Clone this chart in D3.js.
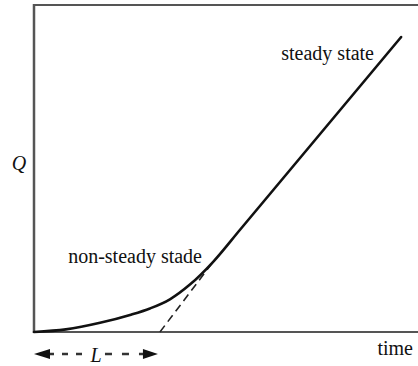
<!DOCTYPE html>
<html><head><meta charset="utf-8">
<script src="https://cdn.jsdelivr.net/npm/d3@7"></script>
<style>html,body{margin:0;padding:0;background:#fff;}svg{display:block;}</style>
</head><body>
<script>
// Data (arbitrary units)
const timeVals = [0, 0.83, 1.72, 2.5, 3.02, 3.54, 4.06, 4.66, 5.36, 9.56];
const qVals    = [0, 0.08, 0.28, 0.52, 0.72, 1.0, 1.45, 2.14, 3.12, 9.02];
const lagTime = 3.28;          // x-intercept of the steady-state line
const tangentPoint = [4.66, 2.14];
const labels = {steady: "steady state", nonSteady: "non-steady stade", y: "Q", x: "time", lag: "L"};

const W = 418, H = 366;
const svg = d3.select("body").append("svg").attr("width", W).attr("height", H);
const x = d3.scaleLinear().domain([0, 10]).range([34, 418]);
const y = d3.scaleLinear().domain([0, 10]).range([332, 5]);
const frameColor = "#555";
const FAM = "Liberation Serif";

// frame: left, top, bottom
svg.append("line").attr("x1", x(0)).attr("x2", x(0)).attr("y1", y(10)-1).attr("y2", y(0)+1)
  .attr("stroke", frameColor).attr("stroke-width", 2.5);
svg.append("line").attr("x1", x(0)-1).attr("x2", x(10)).attr("y1", y(10)).attr("y2", y(10))
  .attr("stroke", frameColor).attr("stroke-width", 2.2);
svg.append("line").attr("x1", x(0)-1).attr("x2", x(10)).attr("y1", y(0)).attr("y2", y(0))
  .attr("stroke", frameColor).attr("stroke-width", 2.2);

// dashed tangent
svg.append("line").attr("x1", x(lagTime)).attr("y1", y(0))
  .attr("x2", x(tangentPoint[0])).attr("y2", y(tangentPoint[1]))
  .attr("stroke", "#222").attr("stroke-width", 1.6).attr("stroke-dasharray", "8,5");

// curve
const pts = timeVals.map((t, i) => [t, qVals[i]]);
const line = d3.line().x(d => x(d[0])).y(d => y(d[1])).curve(d3.curveMonotoneX);
svg.append("path").attr("d", line(pts)).attr("fill", "none")
  .attr("stroke", "#111").attr("stroke-width", 2.6).attr("stroke-linecap", "round");

// labels
function label(t, px, py, anchor, italic) {
  svg.append("text").attr("x", px).attr("y", py).attr("text-anchor", anchor)
    .style("font-family", FAM)
    .style("font-size", "20px").style("font-style", italic ? "italic" : "normal")
    .attr("fill", "#111").text(t);
}
label(labels.steady, 374, 60, "end", false);
label(labels.nonSteady, 202, 263, "end", false);
label(labels.y, 19, 170, "middle", true);
label(labels.x, 413, 355, "end", false);

// lag arrow
const ay = 354;
const lx0 = x(0), lx1 = x(lagTime);
const mid = (lx0 + lx1) / 2;
label(labels.lag, mid - 1, 362, "middle", true);
svg.append("line").attr("x1", lx0 + 14).attr("x2", mid - 12).attr("y1", ay).attr("y2", ay)
  .attr("stroke", "#333").attr("stroke-width", 2.5).attr("stroke-dasharray", "6,8");
svg.append("line").attr("x1", mid + 8).attr("x2", lx1 - 14).attr("y1", ay).attr("y2", ay)
  .attr("stroke", "#333").attr("stroke-width", 2.5).attr("stroke-dasharray", "7,10");
svg.append("path").attr("d", `M${lx0},${ay} L${lx0+16},${ay-5} L${lx0+16},${ay+5} Z`).attr("fill", "#111");
svg.append("path").attr("d", `M${lx1-2},${ay} L${lx1-17},${ay-5} L${lx1-17},${ay+5} Z`).attr("fill", "#111");
</script>
</body></html>
